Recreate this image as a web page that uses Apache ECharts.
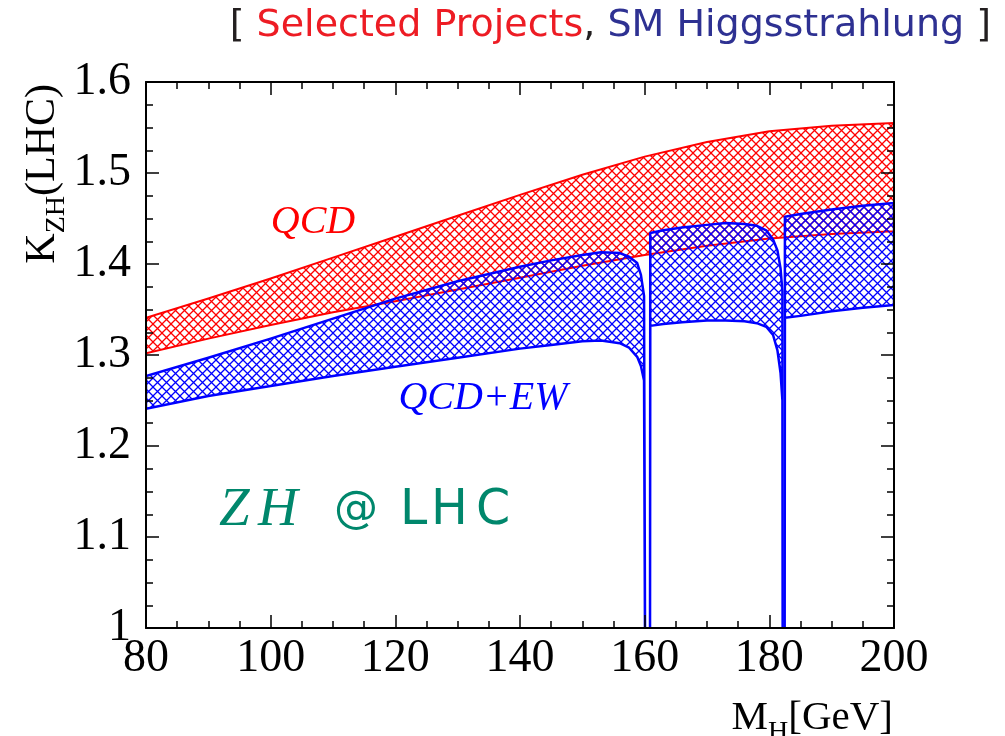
<!DOCTYPE html>
<html>
<head>
<meta charset="utf-8">
<script src="https://cdn.jsdelivr.net/npm/echarts@6/dist/echarts.min.js"></script>
<style>
  html, body { margin: 0; padding: 0; background: #fff; }
  #chart { width: 1005px; height: 736px; }
</style>
</head>
<body>
<div id="chart"></div>
<script>
// QCD band (red)
const qcdMass = [80, 90, 100, 110, 120, 130, 140, 150, 160, 170, 180, 190, 200];
const qcdUpper = [1.341, 1.362, 1.384, 1.407, 1.430, 1.453, 1.476, 1.498, 1.518, 1.534, 1.546, 1.552, 1.555];
const qcdLower = [1.302, 1.318, 1.333, 1.347, 1.359, 1.372, 1.385, 1.398, 1.410, 1.420, 1.428, 1.433, 1.436];

// QCD+EW band (blue), split at the WW and ZZ thresholds where it dives off scale
const ewMass1 = [80, 90, 100, 110, 120, 130, 140, 145, 150, 153, 156, 157.5, 158.8, 159.4, 159.9, 160.1];
const ewUpper1 = [1.277, 1.297, 1.318, 1.340, 1.362, 1.381, 1.397, 1.404, 1.410, 1.413, 1.412, 1.408, 1.401, 1.388, 1.365, 0.9];
const ewLower1 = [1.241, 1.255, 1.266, 1.277, 1.287, 1.297, 1.307, 1.311, 1.315, 1.316, 1.313, 1.308, 1.298, 1.288, 1.272, 0.9];

const ewMass2 = [160.85, 160.9, 163, 166, 170, 173, 176, 178, 179.5, 180.6, 181.3, 181.8, 182.1, 182.15];
const ewUpper2 = [0.9, 1.434, 1.437, 1.440, 1.443, 1.445, 1.444, 1.442, 1.437, 1.427, 1.415, 1.395, 1.370, 0.9];
const ewLower2 = [0.9, 1.332, 1.334, 1.336, 1.338, 1.338, 1.337, 1.335, 1.331, 1.322, 1.305, 1.280, 1.250, 0.9];

const ewMass3 = [182.45, 182.5, 185, 190, 195, 200];
const ewUpper3 = [0.9, 1.452, 1.455, 1.460, 1.464, 1.467];
const ewLower3 = [0.9, 1.341, 1.343, 1.348, 1.352, 1.355];

const RED = '#ff0000';
const BLUE = '#0000ff';
const GREEN = '#00876c';

// cross hatch like ROOT fill style 3144
function hatch(color) {
  const s = 9;
  const c = document.createElement('canvas');
  c.width = s; c.height = s;
  const ctx = c.getContext('2d');
  ctx.strokeStyle = color;
  ctx.lineWidth = 1.3;
  ctx.beginPath();
  ctx.moveTo(0, 0); ctx.lineTo(s, s);
  ctx.moveTo(s, 0); ctx.lineTo(0, s);
  ctx.stroke();
  return c;
}

const bands = [
  { mass: qcdMass, upper: qcdUpper, lower: qcdLower, color: RED, width: 2 },
  { mass: ewMass1, upper: ewUpper1, lower: ewLower1, color: BLUE, width: 2.5 },
  { mass: ewMass2, upper: ewUpper2, lower: ewLower2, color: BLUE, width: 2.5 },
  { mass: ewMass3, upper: ewUpper3, lower: ewLower3, color: BLUE, width: 2.5 },
];
const patterns = { [RED]: hatch(RED), [BLUE]: hatch(BLUE) };

const chart = echarts.init(document.getElementById('chart'));

const renderBands = (params, api) => {
  const children = bands.map((b) => {
    const pts = [];
    b.mass.forEach((m, i) => pts.push(api.coord([m, b.upper[i]])));
    for (let i = b.mass.length - 1; i >= 0; i--) pts.push(api.coord([b.mass[i], b.lower[i]]));
    return {
      type: 'polygon',
      shape: { points: pts },
      style: {
        fill: { image: patterns[b.color], repeat: 'repeat' },
        stroke: b.color,
        lineWidth: b.width,
        lineJoin: 'round',
      },
    };
  });
  return { type: 'group', children: children };
};

const serif = 'Liberation Serif';
const axisCommon = {
  type: 'value',
  z: 10,
  axisLine: { show: true, onZero: false, lineStyle: { color: '#000', width: 2 } },
  axisTick: { show: true, inside: true, length: 13, lineStyle: { color: '#000', width: 1.5 } },
  minorTick: { show: true, splitNumber: 4, length: 7, lineStyle: { color: '#000', width: 1.5 } },
  splitLine: { show: false },
  minorSplitLine: { show: false },
};

// one glyph of the "ZH @ LHC" tag
const tag = (ch, x, font) => ({
  type: 'text', x: x, y: 511,
  style: { text: ch, fill: GREEN, font: font, textVerticalAlign: 'middle' },
});
const tagSerif = 'italic 55px "Liberation Serif"';
const tagSans = '49px "DejaVu Sans"';

const option = {
  animation: false,
  backgroundColor: '#fff',
  grid: { left: 146, right: 111, top: 82, bottom: 108 },
  xAxis: [
    Object.assign({}, axisCommon, {
      min: 80, max: 200, interval: 20, position: 'bottom',
      axisLabel: { color: '#000', fontFamily: serif, fontSize: 46, margin: 8 },
    }),
    Object.assign({}, axisCommon, {
      min: 80, max: 200, interval: 20, position: 'top',
      axisLabel: { show: false },
    }),
  ],
  yAxis: [
    Object.assign({}, axisCommon, {
      min: 1, max: 1.6, interval: 0.1, position: 'left',
      axisLabel: {
        color: '#000', fontFamily: serif, fontSize: 46, margin: 15,
        formatter: (v) => String(Math.round(v * 10) / 10),
      },
    }),
    Object.assign({}, axisCommon, {
      min: 1, max: 1.6, interval: 0.1, position: 'right',
      axisLabel: { show: false },
    }),
  ],
  graphic: [
    {
      type: 'text', right: 14, top: 7,
      style: {
        text: '{k|[ }{r|Selected Projects}{k|, }{b|SM Higgsstrahlung}{k| ]}',
        rich: {
          k: { fill: '#231f20', fontFamily: 'DejaVu Sans', fontSize: 38 },
          r: { fill: '#ed1c24', fontFamily: 'DejaVu Sans', fontSize: 38 },
          b: { fill: '#2e3192', fontFamily: 'DejaVu Sans', fontSize: 38 },
        },
      },
    },
    {
      type: 'text', x: 313, y: 222,
      style: {
        text: 'QCD', fill: RED, font: 'italic 40px "Liberation Serif"',
        textAlign: 'center', textVerticalAlign: 'middle',
      },
    },
    {
      type: 'text', x: 483, y: 398,
      style: {
        text: 'QCD+EW', fill: BLUE, font: 'italic 40px "Liberation Serif"',
        textAlign: 'center', textVerticalAlign: 'middle',
      },
    },
    tag('Z', 219, tagSerif),
    tag('H', 258, tagSerif),
    tag('@', 334, '44px "DejaVu Sans"'),
    tag('L', 400, tagSans),
    tag('H', 431, tagSans),
    tag('C', 476, tagSans),
    {
      type: 'text', x: 893, y: 698,
      style: {
        text: '{m|M}{s|H}{m|[GeV]}',
        textAlign: 'right',
        rich: {
          m: { fill: '#000', fontFamily: serif, fontSize: 41, lineHeight: 41, verticalAlign: 'top' },
          s: { fill: '#000', fontFamily: serif, fontSize: 28, lineHeight: 28, verticalAlign: 'top', padding: [21, 0, 0, 0] },
        },
      },
    },
    {
      type: 'text', x: 22, y: 84, rotation: Math.PI / 2,
      style: {
        text: '{m|K}{s|ZH}{m|(LHC)}',
        textAlign: 'right',
        rich: {
          m: { fill: '#000', fontFamily: serif, fontSize: 42, lineHeight: 42, verticalAlign: 'top' },
          s: { fill: '#000', fontFamily: serif, fontSize: 28, lineHeight: 28, verticalAlign: 'top', padding: [21, 0, 0, 0] },
        },
      },
    },
  ],
  series: [
    {
      type: 'custom',
      name: 'bands',
      clip: true,
      renderItem: renderBands,
      data: [[80, 1]],
      silent: true,
    },
  ],
};

chart.setOption(option);
</script>
</body>
</html>
